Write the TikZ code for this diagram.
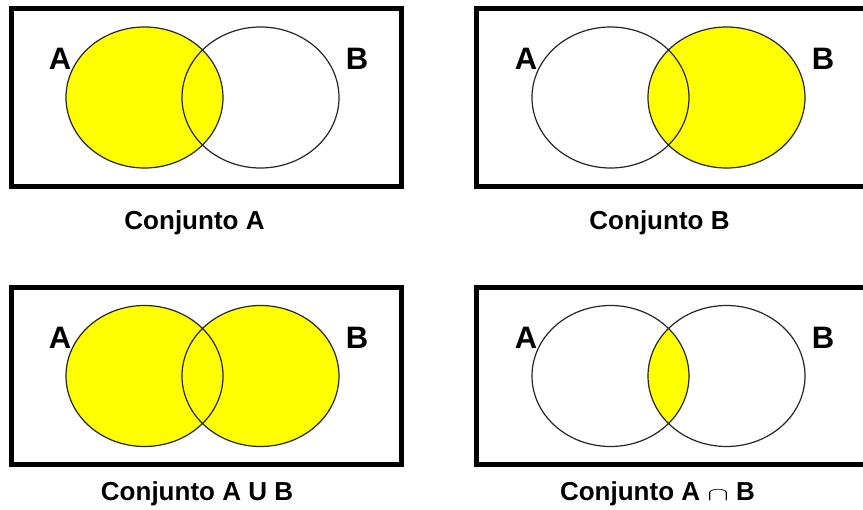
\documentclass[tikz,border=0pt]{standalone}
\usepackage{fontspec}
\usepackage{graphicx}
\setmainfont{Liberation Sans}
\definecolor{setyellow}{RGB}{255,255,0}
\begin{document}
\begin{tikzpicture}[x=1pt,y=-1pt,
  frame/.style={line width=5pt},
  setline/.style={line width=1.2pt, draw=black!85},
  setfill/.style={fill=setyellow},
  setlabel/.style={font=\fontsize{31}{31}\selectfont\bfseries, anchor=base, inner sep=0pt},
  caption/.style={font=\fontsize{26}{26}\selectfont\bfseries, anchor=base, inner sep=0pt}]
% page area
\clip (0,0) rectangle (863,510);
\fill[white] (0,0) rectangle (863,510);

% ellipse sizes and centres of the two sets (panel-local)
\def\setA{(144.5,97.5) ellipse [x radius=78.5pt, y radius=70.5pt]}
\def\setB{(260.5,97.5) ellipse [x radius=78.5pt, y radius=70.5pt]}

% ---- Conjunto A ----
\begin{scope}
  \draw[frame] (11.5,9) rectangle (401.5,186.5);
  \fill[setfill] \setA;
  \draw[setline] \setA;
  \draw[setline] \setB;
  \node[setlabel] (la1) at (60,69.5) {A};
  \node[setlabel] (lb1) at (357,69.5) {B};
  \node[caption] (c1) at (194.5,230) {Conjunto A};
\end{scope}

% ---- Conjunto B ----
\begin{scope}[shift={(466,0)}]
  \draw[frame] (10.7,9) rectangle (430,186.5);
  \fill[setfill] \setB;
  \draw[setline] \setA;
  \draw[setline] \setB;
  \node[setlabel] (la2) at (60,69.5) {A};
  \node[setlabel] (lb2) at (357,69.5) {B};
  \node[caption] (c2) at (193.5,230) {Conjunto B};
\end{scope}

% ---- Conjunto A U B ----
\begin{scope}[shift={(0,278.5)}]
  \draw[frame] (11.5,9) rectangle (401.5,186.5);
  \fill[setfill] \setA;
  \fill[setfill] \setB;
  \draw[setline] \setA;
  \draw[setline] \setB;
  \node[setlabel] (la3) at (60,70.5) {A};
  \node[setlabel] (lb3) at (357,70.5) {B};
  \node[caption] (c3) at (197,222) {Conjunto A U B};
\end{scope}

% ---- Conjunto A intersection B ----
\begin{scope}[shift={(466,278.5)}]
  \draw[frame] (10.7,9) rectangle (430,186.5);
  \begin{scope}
    \clip \setA;
    \fill[setfill] \setB;
  \end{scope}
  \draw[setline] \setA;
  \draw[setline] \setB;
  \node[setlabel] (la4) at (60,70.5) {A};
  \node[setlabel] (lb4) at (357,70.5) {B};
  \node[caption] (c4) at (191.5,222.5) {Conjunto A \scalebox{1.3}[0.75]{$\cap$} B};
\end{scope}
\end{tikzpicture}
\end{document}
